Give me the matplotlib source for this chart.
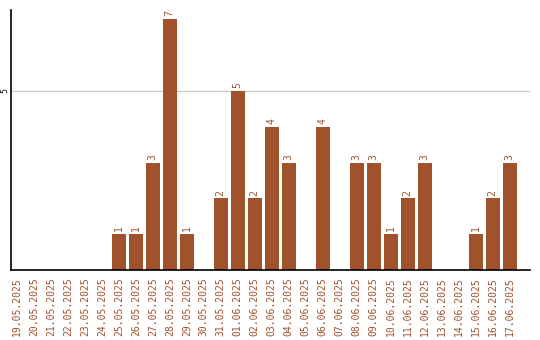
import matplotlib
matplotlib.use("Agg")
import matplotlib.pyplot as plt

dates = ["19.05.2025","20.05.2025","21.05.2025","22.05.2025","23.05.2025","24.05.2025",
         "25.05.2025","26.05.2025","27.05.2025","28.05.2025","29.05.2025","30.05.2025",
         "31.05.2025","01.06.2025","02.06.2025","03.06.2025","04.06.2025","05.06.2025",
         "06.06.2025","07.06.2025","08.06.2025","09.06.2025","10.06.2025","11.06.2025",
         "12.06.2025","13.06.2025","14.06.2025","15.06.2025","16.06.2025","17.06.2025"]
values = [0,0,0,0,0,0,1,1,3,7,1,0,2,5,2,4,3,0,4,0,3,3,1,2,3,0,0,1,2,3]

color = "#A0522D"
fig = plt.figure(figsize=(5.4, 3.4), dpi=100)
ax = fig.add_axes([11/540, 1-270/340, (530-11)/540, (270-10)/340])
x = list(range(len(dates)))
bars = ax.bar(x, values, width=0.82, color=color, zorder=2)
for xi, v in zip(x, values):
    if v > 0:
        ax.text(xi, v + 0.08, str(v), rotation=90, ha="center", va="bottom",
                color=color, fontsize=7, family="DejaVu Sans Mono")
ax.set_xlim(-0.35, 30.2)
ax.set_ylim(0, 7.26)
ax.set_yticks([5])
ax.set_yticklabels(["5"], rotation=90, va="center", fontsize=5.5)
ax.tick_params(axis="y", length=0, pad=1.5)
ax.yaxis.grid(True, color="#cccccc", linewidth=0.9, zorder=0)
ax.set_xticks(x)
ax.set_xticklabels(dates, rotation=90, color=color, fontsize=7, family="DejaVu Sans Mono")
ax.tick_params(axis="x", length=0, pad=5)
ax.spines["top"].set_visible(False)
ax.spines["right"].set_visible(False)
ax.spines["left"].set_linewidth(1.2)
ax.spines["bottom"].set_linewidth(1.2)
fig.savefig("out.png", dpi=100)
